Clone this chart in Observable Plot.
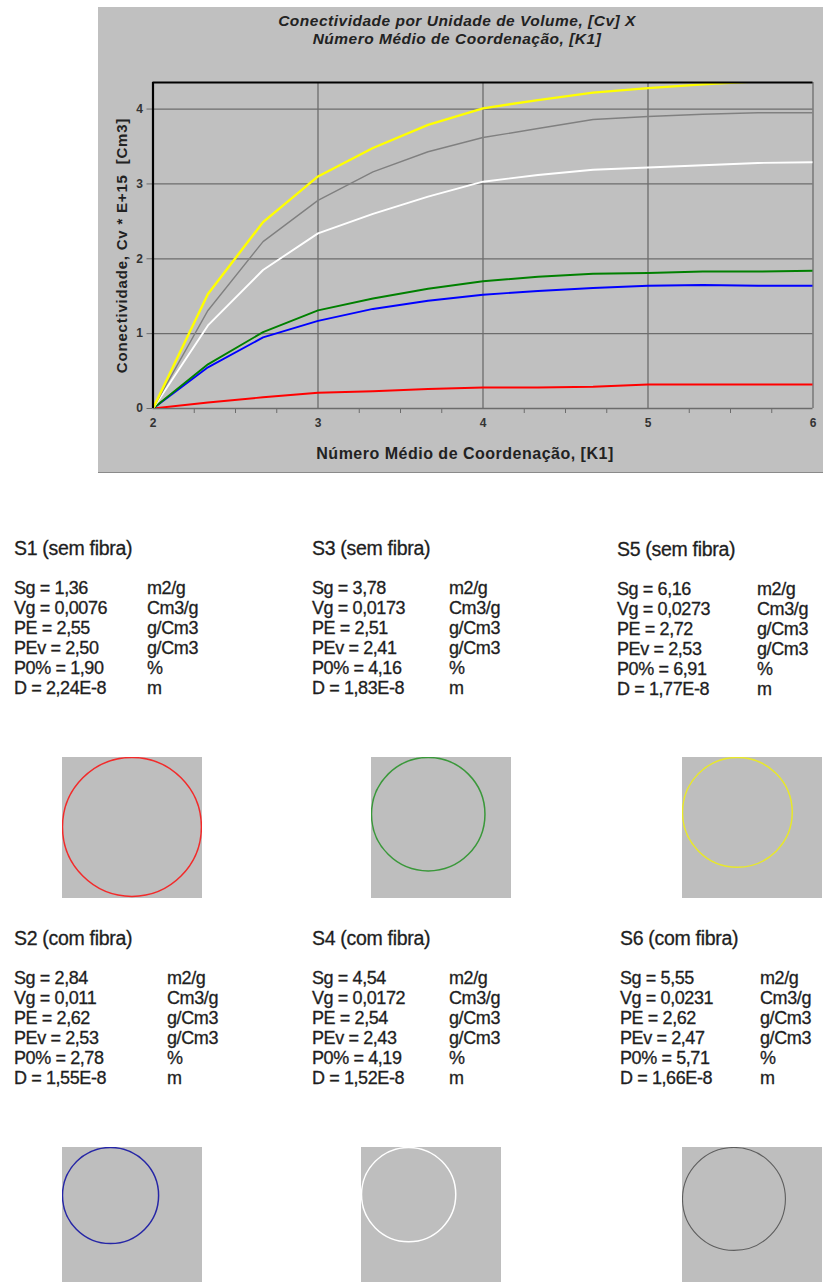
<!DOCTYPE html>
<html>
<head>
<meta charset="utf-8">
<script src="https://cdn.jsdelivr.net/npm/d3@7"></script>
<script src="https://cdn.jsdelivr.net/npm/@observablehq/plot@0.6"></script>
<style>
  html, body { margin: 0; padding: 0; background: #ffffff; width: 823px; height: 1282px; overflow: hidden; }
  body { position: relative; font-family: "Liberation Sans", Arial, sans-serif; }
  .abs { position: absolute; }
  #panel { left: 98px; top: 7px; width: 725px; height: 465px; background: #c0c0c0; border-bottom: 1px solid #8a8a8a; }
  .info { position: absolute; font-size: 18px; line-height: 20px; color: #1e1e1e; letter-spacing: -0.4px; white-space: pre; -webkit-text-stroke: 0.3px #1e1e1e; }
  .info.head { font-size: 19.5px; letter-spacing: -0.3px; }
</style>
</head>
<body>
<div id="panel" class="abs"></div>
<div id="chart" class="abs" style="left:98px; top:7px;"></div>
<div id="bottom"></div>
<script>
// ---------- chart data ----------
const titleLines = ["Conectividade por Unidade de Volume, [Cv] X", "Número Médio de Coordenação, [K1]"];
const xLabel = "Número Médio de Coordenação, [K1]";
const yLabel = "Conectividade, Cv * E+15  [Cm3]";
const K1 = [2, 2.333, 2.667, 3, 3.333, 3.667, 4, 4.333, 4.667, 5, 5.333, 5.667, 6];
const cvS1 = [0, 0.08, 0.15, 0.21, 0.23, 0.26, 0.28, 0.28, 0.29, 0.32, 0.32, 0.32, 0.32];
const cvS2 = [0, 0.55, 0.95, 1.17, 1.33, 1.44, 1.52, 1.57, 1.61, 1.64, 1.65, 1.64, 1.64];
const cvS3 = [0, 0.59, 1.02, 1.31, 1.47, 1.60, 1.70, 1.76, 1.80, 1.81, 1.83, 1.83, 1.84];
const cvS4 = [0, 1.11, 1.85, 2.34, 2.60, 2.83, 3.03, 3.12, 3.19, 3.22, 3.25, 3.28, 3.29];
const cvS5 = [0, 1.53, 2.49, 3.10, 3.48, 3.79, 4.01, 4.12, 4.22, 4.28, 4.33, 4.37, 4.40];
const cvS6 = [0, 1.31, 2.23, 2.78, 3.16, 3.43, 3.62, 3.74, 3.86, 3.90, 3.93, 3.95, 3.95];
const xTicks = [2, 3, 4, 5, 6];
const xMinorTicks = [2.25, 2.5, 2.75, 3.25, 3.5, 3.75, 4.25, 4.5, 4.75, 5.25, 5.5, 5.75];
const yTicks = [0, 1, 2, 3, 4];

// ---------- sample data ----------
const sampleNames = ["S1 (sem fibra)", "S2 (com fibra)", "S3 (sem fibra)", "S4 (com fibra)", "S5 (sem fibra)", "S6 (com fibra)"];
const sgVals  = ["1,36", "2,84", "3,78", "4,54", "6,16", "5,55"];
const vgVals  = ["0,0076", "0,011", "0,0173", "0,0172", "0,0273", "0,0231"];
const peVals  = ["2,55", "2,62", "2,51", "2,54", "2,72", "2,62"];
const pevVals = ["2,50", "2,53", "2,41", "2,43", "2,53", "2,47"];
const p0Vals  = ["1,90", "2,78", "4,16", "4,19", "6,91", "5,71"];
const dVals   = ["2,24E-8", "1,55E-8", "1,83E-8", "1,52E-8", "1,77E-8", "1,66E-8"];
const dNum    = [2.24, 1.55, 1.83, 1.52, 1.77, 1.66];
const rowLabels = ["Sg = ", "Vg = ", "PE = ", "PEv = ", "P0% = ", "D = "];
const rowUnits  = ["m2/g", "Cm3/g", "g/Cm3", "g/Cm3", "%", "m"];
const seriesColors = ["#ff0000", "#0000ff", "#008000", "#ffffff", "#ffff00", "#808080"];
const circleColors = ["#f22a2a", "#2626a6", "#3a983a", "#ffffff", "#e8e82a", "#5e5e5e"];

// ---------- build chart ----------
const allCv = [cvS1, cvS2, cvS3, cvS4, cvS5, cvS6];
const rows = [];
allCv.forEach((arr, s) => arr.forEach((v, i) => rows.push({s, k: K1[i], v})));
const order = [0, 1, 2, 3, 5, 4]; // draw yellow last

const gridCol = "#6c6c6c";
const chart = Plot.plot({
  width: 725, height: 465,
  marginLeft: 54.5, marginRight: 10.5, marginTop: 75, marginBottom: 64,
  style: {background: "transparent", fontFamily: "Liberation Sans, Arial, sans-serif", color: "#222"},
  x: {domain: [2, 6]},
  y: {domain: [0, 4.355]},
  marks: [
    Plot.gridX([3, 4, 5, 6], {stroke: gridCol, strokeOpacity: 1, strokeWidth: 1.3}),
    Plot.gridY([1, 2, 3, 4], {stroke: gridCol, strokeOpacity: 1, strokeWidth: 1.3}),
    Plot.axisY(yTicks, {tickSize: 6, tickPadding: 4, tickFormat: "d", stroke: gridCol, fontSize: 12, fontWeight: "bold", fill: "#333", label: null}),
    Plot.axisX(xMinorTicks, {tickSize: 5, tickFormat: () => "", stroke: gridCol, label: null}),
    Plot.axisX(xTicks, {tickSize: 0, tickPadding: 10, tickFormat: "d", fontSize: 12, fontWeight: "bold", fill: "#333", label: null}),
    Plot.ruleY([0], {stroke: gridCol, strokeWidth: 1.3}),
    ...order.map(s => Plot.line(rows.filter(d => d.s === s), {
      x: "k", y: "v", stroke: seriesColors[s],
      strokeWidth: s === 4 ? 2.4 : (s === 5 ? 1.4 : 1.9), clip: "frame"
    })),
    Plot.ruleY([4.355], {stroke: "#000", strokeWidth: 2.2}),
    Plot.ruleX([2], {stroke: "#000", strokeWidth: 2.2, y1: 0, y2: 4.355}),
    Plot.text([titleLines[0]], {frameAnchor: "top", lineAnchor: "middle", textAnchor: "middle", dy: -61, dx: -26, fontSize: 15.5, letterSpacing: 0.5, fontWeight: "bold", fontStyle: "italic", fill: "#222"}),
    Plot.text([titleLines[1]], {frameAnchor: "top", lineAnchor: "middle", textAnchor: "middle", dy: -43, dx: -26, fontSize: 15.5, letterSpacing: 0.5, fontWeight: "bold", fontStyle: "italic", fill: "#222"}),
    Plot.text([xLabel], {frameAnchor: "bottom", lineAnchor: "middle", textAnchor: "middle", dy: 45, dx: -18, fontSize: 16, letterSpacing: 0.8, fontWeight: "bold", fill: "#222"}),
    Plot.text([yLabel], {frameAnchor: "left", lineAnchor: "middle", textAnchor: "middle", dx: -31, rotate: -90, fontSize: 15, letterSpacing: 0.8, fontWeight: "bold", fill: "#222"})
  ]
});
// Plot's text mark doesn't take letterSpacing as an option; apply it via style on the text elements
chart.querySelectorAll("text").forEach(t => {
  const fs = parseFloat(t.getAttribute("font-size") || (t.parentNode && t.parentNode.getAttribute && t.parentNode.getAttribute("font-size")) || 0);
});
document.getElementById("chart").appendChild(chart);
// letter spacing for the titles/labels
const labelTexts = [titleLines[0], titleLines[1], xLabel, yLabel];
chart.querySelectorAll("text").forEach(t => {
  const s = t.textContent;
  if (s === titleLines[0] || s === titleLines[1]) t.style.letterSpacing = "0.5px";
  if (s === yLabel) t.style.letterSpacing = "0.8px";
});

// ---------- bottom blocks ----------
// layout: [blockLeft, titleTop, unitOffset, boxLeft, boxTop, boxH]
const layout = [
  [14, 538, 133, 62, 757, 141],   // S1
  [14, 928, 153, 62, 1147, 135],  // S2
  [312, 538, 137, 371, 757, 141], // S3
  [312, 928, 137, 361, 1147, 135],// S4
  [617, 539, 140, 682, 757, 141], // S5
  [620, 928, 140, 682, 1147, 135] // S6
];
const bottom = document.getElementById("bottom");
const pxPerUnit = 62;
sampleNames.forEach((name, i) => {
  const [bx, ty, uo, boxX, boxY, boxH] = layout[i];
  const t = document.createElement("div");
  t.className = "info head";
  t.style.left = bx + "px"; t.style.top = ty + "px";
  t.textContent = name;
  bottom.appendChild(t);
  const vals = [sgVals[i], vgVals[i], peVals[i], pevVals[i], p0Vals[i], dVals[i]];
  vals.forEach((v, r) => {
    const lab = document.createElement("div");
    lab.className = "info";
    lab.style.left = bx + "px"; lab.style.top = (ty + 40 + r * 20) + "px";
    lab.textContent = rowLabels[r] + v;
    bottom.appendChild(lab);
    const u = document.createElement("div");
    u.className = "info";
    u.style.left = (bx + uo) + "px"; u.style.top = (ty + 40 + r * 20) + "px";
    u.textContent = rowUnits[r];
    bottom.appendChild(u);
  });
  const w = 140;
  const svg = Plot.plot({
    width: w, height: boxH, margin: 0,
    style: {background: "#bebebe"},
    x: {domain: [0, w / pxPerUnit], axis: null},
    y: {domain: [0, boxH / pxPerUnit], reverse: true, axis: null},
    r: {type: "linear", domain: [0, 1], range: [0, pxPerUnit]},
    marks: [
      Plot.dot([dNum[i]], {x: d => d / 2, y: d => d / 2, r: d => d / 2,
        fill: "none", stroke: circleColors[i], strokeWidth: i === 5 ? 1.1 : 1.5})
    ]
  });
  const holder = document.createElement("div");
  holder.className = "abs";
  holder.style.left = boxX + "px"; holder.style.top = boxY + "px";
  holder.appendChild(svg);
  bottom.appendChild(holder);
});
</script>
</body>
</html>
